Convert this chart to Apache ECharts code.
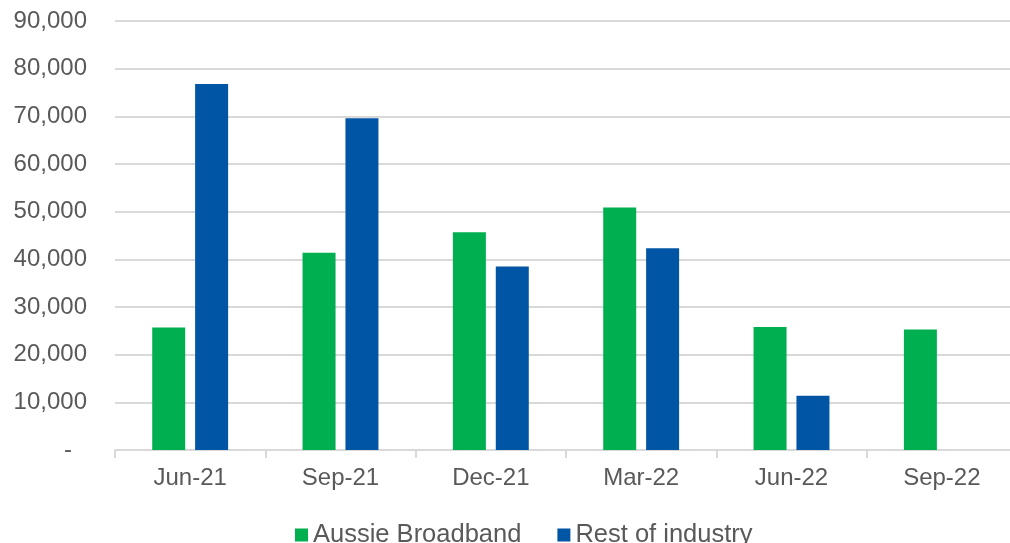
<!DOCTYPE html>
<html>
<head>
<meta charset="utf-8">
<script src="https://cdn.jsdelivr.net/npm/echarts@6/dist/echarts.min.js"></script>
<style>html,body{margin:0;padding:0;background:#fff;}#c{width:1010px;height:543px;}</style>
</head>
<body>
<div id="c"></div>
<script>
const categories = ['Jun-21', 'Sep-21', 'Dec-21', 'Mar-22', 'Jun-22', 'Sep-22'];
const aussieBroadband = [25700, 41400, 45700, 50900, 25800, 25300];
const restOfIndustry = [76800, 69600, 38500, 42300, 11400, null];
const seriesNames = ['Aussie Broadband', 'Rest of industry'];
const yTicks = { min: 0, max: 90000, interval: 10000 };

const FONT = 'Liberation Sans';
const TXT = '#595959';
const chart = echarts.init(document.getElementById('c'), null, { renderer: 'canvas' });
chart.setOption({
  animation: false,
  backgroundColor: '#fff',
  grid: { left: 115, width: 902, top: 21, bottom: 93, containLabel: false, outerBoundsMode: 'none' },
  legend: {
    data: seriesNames,
    left: 290, top: 517,
    itemWidth: 13, itemHeight: 13, itemGap: 36,
    icon: 'rect',
    textStyle: { fontFamily: FONT, fontSize: 25.5, color: TXT }
  },
  xAxis: {
    type: 'category',
    data: categories,
    axisLine: { lineStyle: { color: '#D9D9D9', width: 2 } },
    axisTick: { show: true, length: 8, lineStyle: { color: '#D9D9D9', width: 2 } },
    axisLabel: { fontFamily: FONT, fontSize: 24, color: TXT, margin: 16 }
  },
  yAxis: {
    type: 'value',
    min: yTicks.min, max: yTicks.max, interval: yTicks.interval,
    axisLine: { show: false },
    axisTick: { show: false },
    splitLine: { lineStyle: { color: '#D9D9D9', width: 2 } },
    axisLabel: {
      fontFamily: FONT, fontSize: 24, color: TXT, margin: 28,
      formatter: v => v === 0 ? '{d|-}' : v.toLocaleString('en-US'),
      rich: { d: { fontFamily: FONT, fontSize: 24, color: TXT, padding: [0, 15, 0, 0] } }
    }
  },
  series: [
    { name: seriesNames[0], type: 'bar', data: aussieBroadband, barWidth: 33, barGap: '30%',
      itemStyle: { color: '#00B050' } },
    { name: seriesNames[1], type: 'bar', data: restOfIndustry, barWidth: 33, barGap: '30%',
      itemStyle: { color: '#0055A5' } }
  ]
});
</script>
</body>
</html>
